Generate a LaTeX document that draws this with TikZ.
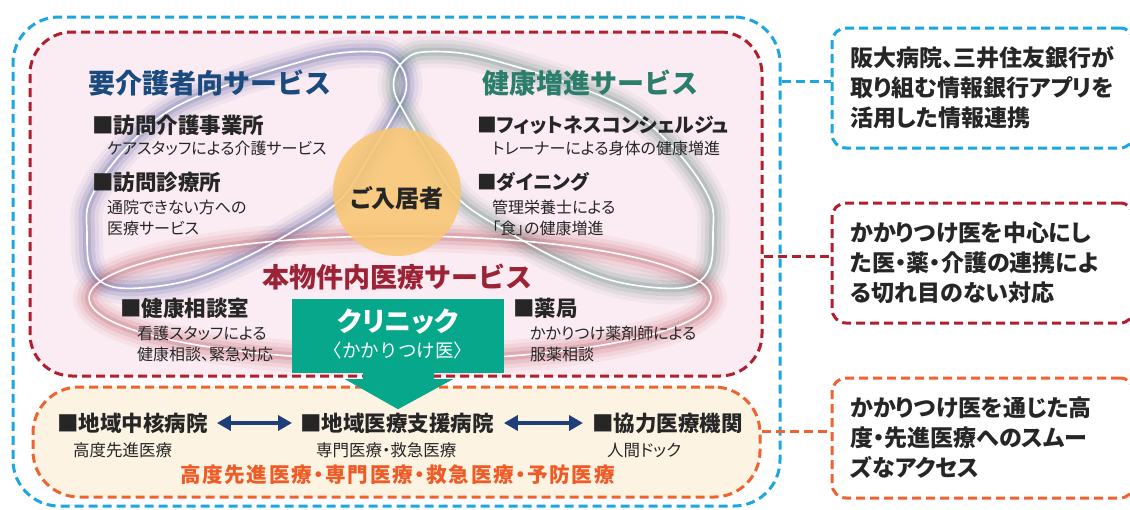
\documentclass[tikz,border=0pt]{standalone}
\usepackage{fontspec}
\setmainfont{Noto Sans CJK JP}[RawFeature=+palt]
\newfontfamily\jpfix{Noto Sans CJK JP}
\usetikzlibrary{arrows.meta,calc}
\definecolor{cblue}{HTML}{1DA6E0}
\definecolor{cred}{HTML}{B11F2E}
\definecolor{corange}{HTML}{EF6330}
\definecolor{pinkbg}{HTML}{FBEBF2}
\definecolor{creambg}{HTML}{FDF3E3}
\definecolor{tblue}{HTML}{1B4B7E}
\definecolor{tgreen}{HTML}{2B7E6B}
\definecolor{tred}{HTML}{9C2336}
\definecolor{torange}{HTML}{EE5B27}
\definecolor{clinicgreen}{HTML}{06A78B}
\definecolor{circ}{HTML}{F8C672}
\definecolor{navy}{HTML}{1F3F7B}
\definecolor{ink}{HTML}{262626}
\definecolor{glowblue}{HTML}{4B58A0}
\definecolor{glowgreen}{HTML}{557F78}
\definecolor{glowred}{HTML}{B84B55}
\tikzset{
  dashbox/.style={draw, line width=3pt, dash pattern=on 9pt off 5pt, inner sep=0pt},
  conn/.style={line width=3pt, dash pattern=on 9pt off 5pt},
  ttl/.style={inner sep=0pt, font=\jpfix\bfseries\fontsize{27}{30}\selectfont},
  txthead/.style={inner sep=0pt, anchor=west, text=ink, font=\bfseries\fontsize{21.5}{24}\selectfont},
  txtsub/.style={inner sep=0pt, anchor=west, align=left, text=ink, font=\fontsize{16}{21}\selectfont},
  bhead/.style={inner sep=0pt, anchor=west, text=ink, font=\bfseries\fontsize{21.5}{24}\selectfont},
  bsub/.style={inner sep=0pt, anchor=west, text=ink, font=\fontsize{16.5}{20}\selectfont},
  rtext/.style={inner sep=0pt, anchor=west, align=left, text=ink, font=\bfseries\fontsize{23}{30}\selectfont},
  dblarrow/.style={draw=navy, line width=3.5pt, {Triangle[length=14pt,width=15pt]}-{Triangle[length=14pt,width=15pt]}},
}
\def\leftloop{plot[smooth cycle, tension=0.6] coordinates {(90,200) (87,233) (90,267) (107,285) (140,288) (190,280) (240,260) (290,233) (340,200) (372,152) (397,110) (406,90) (404,72) (393,58) (377,52) (340,53) (300,62) (230,84) (167,112) (120,155)}}
\def\rightloop{plot[smooth cycle, tension=0.6] coordinates {(710,200) (713,233) (710,267) (693,285) (660,288) (610,280) (560,260) (510,233) (460,200) (428,152) (403,110) (394,90) (396,72) (407,58) (423,52) (460,53) (500,62) (570,84) (633,112) (680,155)}}
\def\redloop{(400,298) ellipse [x radius=311, y radius=62]}
\begin{document}
\begin{tikzpicture}[x=1pt,y=-1pt]
\clip (0,0) rectangle (1130,509);
\fill[white] (0,0) rectangle (1130,509);

% main frames
\node[dashbox, draw=cblue, minimum width=767pt, minimum height=489pt, rounded corners=46pt] (outer) at (396.5,261.5) {};
\node[dashbox, draw=cred, fill=pinkbg, minimum width=732pt, minimum height=344pt, rounded corners=42pt] (care) at (396,204) {};
\node[dashbox, draw=corange, fill=creambg, minimum width=727pt, minimum height=110pt, rounded corners=46pt] (hosp) at (396.5,442) {};

% glows
\foreach \w/\o in {32/0.06,24/0.09,16/0.13,8/0.2}{
  \draw[line width=\w pt, draw=glowblue, draw opacity=\o] \leftloop;
  \draw[line width=\w pt, draw=glowgreen, draw opacity=\o] \rightloop;
  \draw[line width=\w pt, draw=glowred, draw opacity=\o] \redloop;
}
\draw[white, line width=1.6pt] \leftloop;
\draw[white, line width=1.6pt] \rightloop;
\draw[white, line width=1.6pt] \redloop;

% resident circle
\node[circle, fill=circ, fill opacity=0.87, minimum size=128pt, inner sep=0pt] (res) at (397,192) {};
\node[inner sep=0pt, text=ink, font=\bfseries\fontsize{24}{26}\selectfont] (reslabel) at (397,198) {ご入居者};

% titles
\node[ttl, anchor=west, text=tblue] (t1) at (88,83) {要介護者向サービス};
\node[ttl, anchor=west, text=tgreen] (t2) at (482,83) {健康増進サービス};
\node[ttl, text=tred] (t3) at (397,277) {本物件内医療サービス};

% care services
\node[txthead] (h1) at (92,125) {■訪問介護事業所};
\node[txtsub] (s1) at (107,148) {ケアスタッフによる介護サービス};
\node[txthead] (h2) at (92,182) {■訪問診療所};
\node[txtsub] (s2) at (107,217.5) {通院できない方への\\医療サービス};
\node[txthead, font=\bfseries\fontsize{19.8}{24}\selectfont] (h3) at (477,125) {■フィットネスコンシェルジュ};
\node[txtsub] (s3) at (492,148) {トレーナーによる身体の健康増進};
\node[txthead, font=\bfseries\fontsize{19.5}{24}\selectfont] (h4) at (477,182) {■ダイニング};
\node[txtsub] (s4) at (492,217.5) {管理栄養士による\\「食」の健康増進};
\node[txthead] (h5) at (120,308) {■健康相談室};
\node[txtsub] (s5) at (137,343.5) {看護スタッフによる\\健康相談、緊急対応};
\node[txthead] (h6) at (513,308) {■薬局};
\node[txtsub] (s6) at (530,343.5) {かかりつけ薬剤師による\\服薬相談};

% clinic
\node[fill=clinicgreen, minimum width=212pt, minimum height=74pt, inner sep=0pt] (clinic) at (398,336) {};
\fill[clinicgreen] ($(clinic.south)+(-35,-1)$) -- ($(clinic.south)+(-35,6)$) -- ($(clinic.south)+(-53,6)$) -- ($(clinic.south)+(0,36)$) -- ($(clinic.south)+(55,6)$) -- ($(clinic.south)+(36,6)$) -- ($(clinic.south)+(36,-1)$) -- cycle;
\node[inner sep=0pt, text=white, font=\bfseries\fontsize{27}{30}\selectfont] (cl1) at ([yshift=14pt]clinic.center) {クリニック};
\node[inner sep=0pt, text=white, font=\jpfix\fontsize{18.5}{20}\selectfont] (cl2) at ([yshift=-14pt]clinic.center) {〈かかりつけ医〉};

% hospitals
\node[bhead] (b1) at (57,423) {■地域中核病院};
\node[bsub] (b1s) at (73,450) {高度先進医療};
\node[bhead] (b2) at (300,423) {■地域医療支援病院};
\node[bsub] (b2s) at (316,450) {専門医療・救急医療};
\node[bhead] (b3) at (592,423) {■協力医療機関};
\node[bsub] (b3s) at (607,450) {人間ドック};
\draw[dblarrow] ([xshift=9pt]b1.east) -- ([xshift=-8pt]b2.west);
\draw[dblarrow] ([xshift=10pt]b2.east) -- ([xshift=-9pt]b3.west);
\node[inner sep=0pt, text=torange, font=\bfseries\fontsize{20.6}{24}\selectfont\addfontfeature{LetterSpace=8}] (bt) at (397.5,475) {高度先進医療・専門医療・救急医療・予防医療};

% right boxes
\node[dashbox, draw=cblue, minimum width=302pt, minimum height=120pt, rounded corners=14pt] (rb1) at (983,88) {};
\node[dashbox, draw=cred, minimum width=302pt, minimum height=120pt, rounded corners=14pt] (rb2) at (983,263) {};
\node[dashbox, draw=corange, minimum width=302pt, minimum height=120pt, rounded corners=14pt] (rb3) at (983,438) {};
\node[rtext] (rt1) at (850,88) {阪大病院、三井住友銀行が\\取り組む情報銀行アプリを\\活用した情報連携};
\node[rtext] (rt2) at (850,263) {かかりつけ医を中心にし\\た医・薬・介護の連携によ\\る切れ目のない対応};
\node[rtext] (rt3) at (850,438) {かかりつけ医を通じた高\\度・先進医療へのスムー\\ズなアクセス};

% connectors
\coordinate (k1) at ([yshift=7pt]rb1.west);
\coordinate (k2) at ([yshift=7pt]rb2.west);
\coordinate (k3) at ([yshift=7pt]rb3.west);
\draw[conn, draw=cblue] (k1 -| outer.east) -- (k1);
\draw[conn, draw=cred] (k2 -| care.east) -- (k2);
\draw[conn, draw=corange] (k3 -| hosp.east) -- (k3);
\end{tikzpicture}
\end{document}
